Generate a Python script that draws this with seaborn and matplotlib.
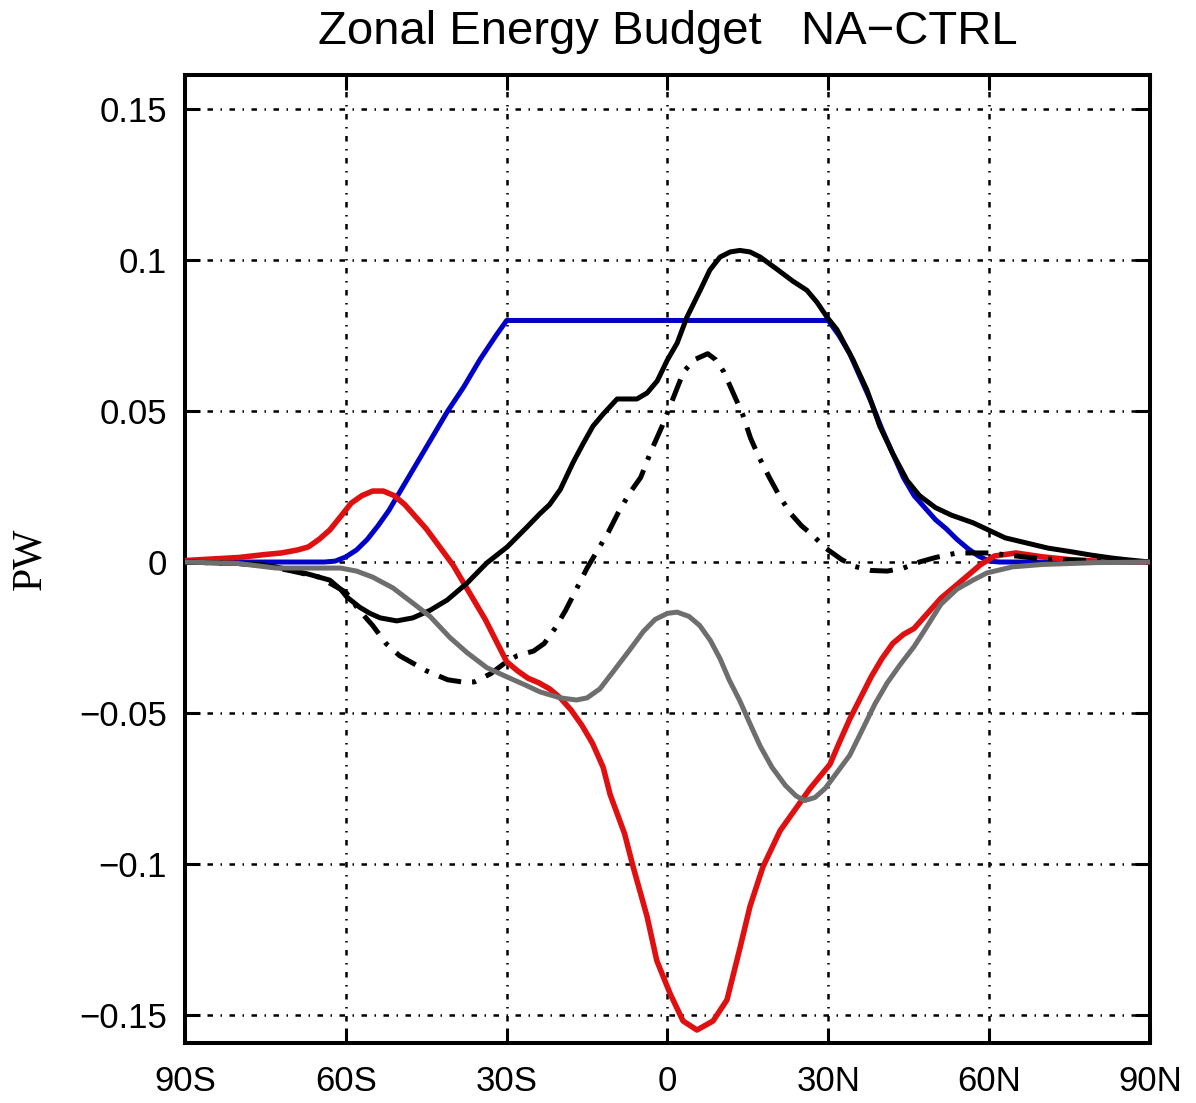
import matplotlib
matplotlib.use("Agg")
import matplotlib.pyplot as plt
import seaborn as sns

# Zonal energy budget differences (PW), NA minus CTRL
lat_blue = [-90, -70, -64, -62, -60, -58, -56, -54, -52, -50, -47, -44, -41, -38, -35, -32, -30,
            30, 32, 34, 36, 38, 40, 42, 44, 46, 48, 50, 52, 54, 56, 58, 60, 62, 90]
val_blue = [0.0, 0.0, 0.0, 0.0003, 0.0017, 0.004, 0.0075, 0.012, 0.017, 0.023, 0.032, 0.041, 0.050,
            0.058, 0.067, 0.075, 0.080,
            0.080, 0.075, 0.069, 0.061, 0.053, 0.044, 0.036, 0.028, 0.022, 0.018, 0.014, 0.011,
            0.0075, 0.0045, 0.002, 0.0003, 0.0, 0.0]

lat_total = [-90, -80, -75, -72, -70, -67, -65, -63, -61, -59.8, -57.4, -55.5, -53.6, -50.5, -47.5,
             -44.3, -41.1, -37.4, -33.7, -29.9, -26.2, -23.8, -22, -20, -17.6, -15.8, -13.9, -12,
             -9.4, -7.5, -5.7, -3.8, -1.9, 0, 1.8, 3.6, 6.1, 7.9, 9.8, 11.7, 13.5, 15.4, 17.3, 20.4,
             23.4, 26, 27.9, 29.8, 31.6, 34.6, 37.2, 39.6, 42, 44.7, 47, 50, 53, 57, 60, 63, 67, 71,
             75, 79, 83, 86, 90]
val_total = [0.0, -0.0005, -0.001, -0.002, -0.0028, -0.004, -0.005, -0.006, -0.009, -0.0116, -0.015,
             -0.017, -0.0185, -0.0195, -0.0185, -0.016, -0.0126, -0.007, -0.0003, 0.005, 0.0116,
             0.016, 0.019, 0.024, 0.033, 0.039, 0.045, 0.049, 0.054, 0.054, 0.054, 0.056, 0.060,
             0.067, 0.0725, 0.081, 0.090, 0.0967, 0.101, 0.1027, 0.1032, 0.1027, 0.101, 0.097,
             0.093, 0.090, 0.086, 0.081, 0.077, 0.067, 0.057, 0.045, 0.036, 0.027, 0.022, 0.018,
             0.0155, 0.013, 0.0105, 0.008, 0.0063, 0.0046, 0.0035, 0.0023, 0.0013, 0.0007, 0.0]

lat_dashdot = [-90, -80, -75, -70, -65, -62, -60, -57.5, -55, -52.5, -50, -48, -45, -41, -38, -36,
               -33, -30, -28, -25, -23, -21, -19, -17, -15, -13, -11, -9, -7, -5, -3, -1, 1, 3, 5,
               7.5, 9, 10.5, 12, 14, 15.5, 17, 19, 21, 23, 25, 27, 29.5, 32.5, 35, 38, 41, 44, 47,
               50, 54, 60, 70, 80, 90]
val_dashdot = [0.0, -0.0005, -0.0012, -0.003, -0.005, -0.008, -0.010, -0.016, -0.021, -0.027,
               -0.031, -0.033, -0.036, -0.039, -0.0398, -0.0397, -0.037, -0.033, -0.031, -0.0295,
               -0.027, -0.022, -0.016, -0.009, -0.002, 0.004, 0.010, 0.017, 0.023, 0.028, 0.037,
               0.045, 0.054, 0.063, 0.067, 0.069, 0.067, 0.063, 0.057, 0.049, 0.041, 0.035, 0.028,
               0.0215, 0.016, 0.012, 0.009, 0.0046, 0.0008, -0.0015, -0.0028, -0.003, -0.002, 0.0,
               0.0015, 0.003, 0.003, 0.001, 0.0004, 0.0]

lat_red = [-90, -80, -75, -72, -69, -67, -65, -63, -61, -59, -57, -55, -53, -51, -49, -47.5, -45,
           -42.5, -40, -38, -36, -34, -32, -30, -28, -26, -24, -22, -20, -18, -16, -14, -12, -10.7,
           -8, -6.4, -3.8, -2, 0.5, 2.9, 5.5, 8.5, 11.1, 13.5, 15.4, 17.8, 21, 24.2, 26.6, 30.3,
           32, 34, 36, 38, 40, 42, 44, 46, 48, 51, 55, 58.3, 61, 65, 70, 75, 80, 90]
val_red = [0.0005, 0.0015, 0.0025, 0.003, 0.004, 0.005, 0.0075, 0.0106, 0.015, 0.0195, 0.022,
           0.0235, 0.0235, 0.022, 0.019, 0.016, 0.011, 0.005, -0.001, -0.007, -0.013, -0.019,
           -0.026, -0.033, -0.036, -0.0385, -0.040, -0.042, -0.045, -0.049, -0.054, -0.060,
           -0.068, -0.077, -0.090, -0.101, -0.1175, -0.132, -0.143, -0.152, -0.155, -0.152,
           -0.145, -0.128, -0.114, -0.101, -0.089, -0.081, -0.075, -0.067, -0.060, -0.052,
           -0.045, -0.038, -0.032, -0.027, -0.024, -0.022, -0.018, -0.012, -0.006, -0.001,
           0.002, 0.003, 0.0017, 0.0008, 0.0003, 0.0]

lat_gray = [-90, -80, -73, -67, -61, -58, -55, -51.2, -47.5, -44.3, -40.6, -37.4, -33.7, -30,
            -26.2, -23.8, -20, -17, -15, -12.6, -10, -7, -4.5, -2.3, 0, 1.8, 4, 6, 8, 9.8, 11.5,
            13.5, 15.5, 17.3, 19.5, 22, 24, 25.6, 27.5, 29.4, 31.5, 34, 36.5, 38.7, 41, 43.4, 46,
            48, 51, 54, 57, 59.6, 64.4, 70, 80, 90]
val_gray = [0.0, -0.0005, -0.002, -0.002, -0.002, -0.003, -0.005, -0.0086, -0.0136, -0.018,
            -0.025, -0.030, -0.035, -0.038, -0.041, -0.043, -0.045, -0.0457, -0.045, -0.042,
            -0.036, -0.029, -0.023, -0.019, -0.017, -0.0166, -0.018, -0.021, -0.026, -0.032,
            -0.039, -0.046, -0.054, -0.061, -0.068, -0.074, -0.0775, -0.079, -0.078, -0.075,
            -0.070, -0.064, -0.055, -0.047, -0.040, -0.034, -0.028, -0.0225, -0.014, -0.009,
            -0.006, -0.0036, -0.0016, -0.0008, -0.0002, 0.0]

x_ticks = [-90, -60, -30, 0, 30, 60, 90]
x_ticklabels = ["90S", "60S", "30S", "0", "30N", "60N", "90N"]
y_ticks = [-0.15, -0.1, -0.05, 0, 0.05, 0.1, 0.15]
y_ticklabels = ["\u22120.15", "\u22120.1", "\u22120.05", "0", "0.05", "0.1", "0.15"]

title_text = "Zonal Energy Budget   NA\u2212CTRL"
y_label = "PW"

sns.set_theme(style="white")
plt.rcParams["font.family"] = ["Liberation Sans", "DejaVu Sans"]

fig = plt.figure(figsize=(11.96, 11.03), dpi=100)
ax = fig.add_axes([0.1547, 0.0544, 0.8068, 0.8776])

lw = 3.6
sns.lineplot(x=lat_blue, y=val_blue, ax=ax, color="#0000c8", lw=lw, sort=False,
             estimator=None, zorder=3)
sns.lineplot(x=lat_red, y=val_red, ax=ax, color="#e01010", lw=4.0, sort=False,
             estimator=None, zorder=4)
sns.lineplot(x=lat_total, y=val_total, ax=ax, color="black", lw=lw, sort=False,
             estimator=None, zorder=5)
sns.lineplot(x=lat_dashdot, y=val_dashdot, ax=ax, color="black", lw=lw, sort=False,
             estimator=None, zorder=5, linestyle=(0, (4.6, 2.2, 0.8, 2.2)),
             dash_capstyle="butt")
sns.lineplot(x=lat_gray, y=val_gray, ax=ax, color="#6e6e6e", lw=lw, sort=False,
             estimator=None, zorder=6)

ax.set_xlim(-90, 90)
ax.set_ylim(-0.1593, 0.1613)
ax.set_xticks(x_ticks)
ax.set_xticklabels(x_ticklabels)
ax.set_yticks(y_ticks)
ax.set_yticklabels(y_ticklabels)

ax.grid(True, color="black", lw=1.8, linestyle=(0, (2.2, 3, 0.6, 3)), zorder=1)
ax.set_axisbelow(True)

for sp in ax.spines.values():
    sp.set_visible(True)
    sp.set_color("black")
    sp.set_linewidth(2.9)

ax.tick_params(axis="both", which="major", direction="in", length=11, width=2.2,
               color="black", labelsize=25, labelcolor="black",
               top=True, right=True, bottom=True, left=True)
ax.tick_params(axis="y", pad=13)
ax.tick_params(axis="x", pad=16)

ax.set_title(title_text, fontsize=34, pad=22, color="black")
ax.set_ylabel(y_label, fontsize=30, family=["Liberation Serif", "DejaVu Serif"],
              color="black")
ax.yaxis.set_label_coords(-0.141, 0.5)

fig.savefig("out.png", dpi=100, facecolor="white")
